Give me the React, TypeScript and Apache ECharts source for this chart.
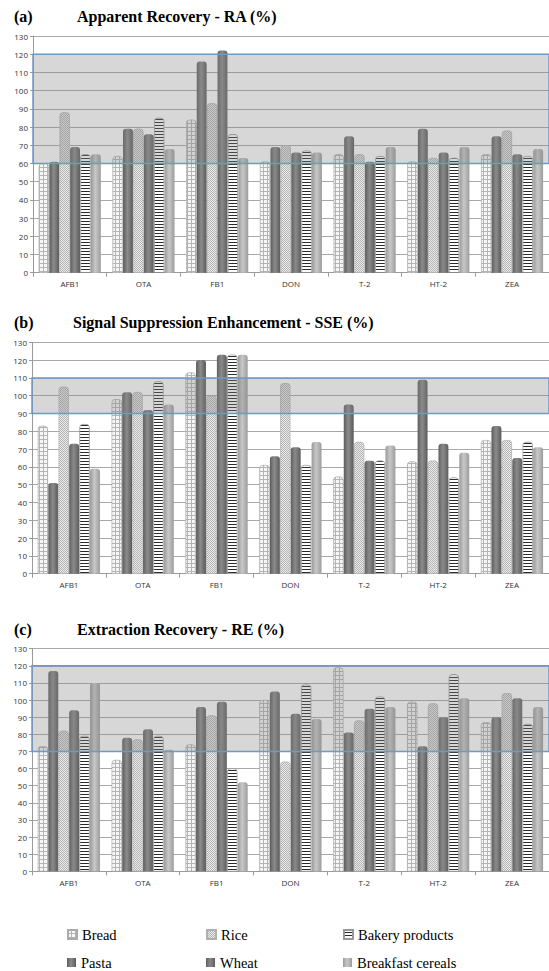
import React, { useEffect, useRef } from "react";
import * as echarts from "echarts";

const categories = ["AFB1", "OTA", "FB1", "DON", "T-2", "HT-2", "ZEA"];
const seriesNames = ["Bread", "Pasta", "Rice", "Wheat", "Bakery products", "Breakfast cereals"];
const yTicks = { min: 0, max: 130, interval: 10 };

// (a) Apparent Recovery - RA (%)
const raBread = [60, 64, 84, 61, 65, 61, 65];
const raPasta = [61, 79, 116, 69, 75, 79, 75];
const raRice = [88, 79, 93, 70, 65, 63, 78];
const raWheat = [69, 76, 122, 66, 61, 66, 65];
const raBakery = [65, 85, 76, 67, 64, 63, 64];
const raBreakfast = [65, 68, 63, 66, 69, 69, 68];
const raBand = [60, 120];

// (b) Signal Suppression Enhancement - SSE (%)
const sseBread = [83, 98, 113, 61, 54.5, 63, 75];
const ssePasta = [51, 102, 120, 66, 95, 109, 83];
const sseRice = [105, 102, 100, 107, 74, 63.5, 75];
const sseWheat = [73, 92, 123, 71, 63.5, 73, 65];
const sseBakery = [84, 108, 123, 61, 63.5, 54, 74];
const sseBreakfast = [59, 95, 123, 74, 72, 68, 71];
const sseBand = [90, 110];

// (c) Extraction Recovery - RE (%)
const reBread = [73, 65, 74, 100, 119, 99, 87];
const rePasta = [117, 78, 96, 105, 81, 73, 90];
const reRice = [82, 77, 91, 64, 88, 98, 104];
const reWheat = [94, 83, 99, 92, 95, 90, 101];
const reBakery = [79, 79, 60, 109, 102, 115, 86];
const reBreakfast = [110, 71, 52, 89, 96, 101, 96];
const reBand = [70, 120];

const panelTitles = ["Apparent Recovery - RA (%)", "Signal Suppression Enhancement - SSE (%)", "Extraction Recovery - RE (%)"];
const panelLetters = ["(a)", "(b)", "(c)"];

const panels = [
  { values: [raBread, raPasta, raRice, raWheat, raBakery, raBreakfast], band: raBand },
  { values: [sseBread, ssePasta, sseRice, sseWheat, sseBakery, sseBreakfast], band: sseBand },
  { values: [reBread, rePasta, reRice, reWheat, reBakery, reBreakfast], band: reBand },
];

const SERIF = "Liberation Serif";
const SANS = "Open Sans";

const grad = (a: string, b: string, c: string) => ({
  type: "linear", x: 0, y: 0, x2: 1, y2: 0,
  colorStops: [{ offset: 0, color: a }, { offset: 0.45, color: b }, { offset: 1, color: c }],
});

const seriesStyles: any[] = [
  { color: "#b4b4b4", borderColor: "#aaaaaa", borderWidth: 0.5,
    decal: { symbol: "rect", symbolSize: 1, color: "#f6f6f6", dashArrayX: [3, 1], dashArrayY: [3, 1], rotation: 0 } },
  { color: grad("#5c5c5c", "#8c8c8c", "#5a5a5a") },
  { color: "#b4b4b4", borderColor: "#b0b0b0", borderWidth: 0.5,
    decal: { symbol: "rect", symbolSize: 1, color: "#ebebeb", dashArrayX: [[1, 1], [0, 1, 1, 0]], dashArrayY: [1, 0], rotation: 0 } },
  { color: grad("#606060", "#8a8a8a", "#5e5e5e") },
  { color: "#2a2a2a", borderColor: "#999999", borderWidth: 0.5,
    decal: { symbol: "rect", symbolSize: 1, color: "#ffffff", dashArrayX: [1, 0], dashArrayY: [2, 1], rotation: 0 } },
  { color: grad("#9a9a9a", "#c8c8c8", "#9c9c9c") },
];

const grids = [
  { left: 33, right: -13, top: 36, height: 236.7 },
  { left: 32, right: -12, top: 342.3, height: 231.4 },
  { left: 32, right: -12, top: 648.7, height: 222.6 },
];
const titleTops = [8, 314, 621];
const titleLefts = [77, 73, 77];

const legendPos = [
  { name: "Bread", left: 67, top: 927 },
  { name: "Rice", left: 206, top: 927 },
  { name: "Bakery products", left: 343, top: 927 },
  { name: "Pasta", left: 67, top: 955 },
  { name: "Wheat", left: 206, top: 955 },
  { name: "Breakfast cereals", left: 343, top: 955 },
];

export default function App() {
  const ref = useRef<HTMLDivElement>(null);
  useEffect(() => {
    if (!ref.current) return;
    const chart = echarts.init(ref.current, null, { renderer: "svg" });
    const title: any[] = [];
    panels.forEach((_, i) => {
      title.push({ text: panelLetters[i], left: 14, top: titleTops[i], padding: 0,
        textStyle: { fontFamily: SERIF, fontWeight: "bold", fontSize: 16, color: "#000" } });
      title.push({ text: panelTitles[i], left: titleLefts[i], top: titleTops[i], padding: 0,
        textStyle: { fontFamily: SERIF, fontWeight: "bold", fontSize: 16, color: "#000" } });
    });
    const xAxis = panels.map((_, i) => ({
      type: "category", gridIndex: i, data: categories,
      axisLine: { lineStyle: { color: "#9a9a9a" } },
      axisTick: { show: true, length: 4, lineStyle: { color: "#9a9a9a" } },
      axisLabel: { fontSize: 8, color: "#333", fontFamily: SANS, margin: 7 },
    }));
    const yAxis = panels.map((_, i) => ({
      type: "value", gridIndex: i, ...yTicks,
      axisLine: { show: true, lineStyle: { color: "#9a9a9a" } },
      axisTick: { show: true, length: 3, lineStyle: { color: "#9a9a9a" } },
      splitLine: { lineStyle: { color: "#a8a8a8" } },
      axisLabel: { fontSize: 8, color: "#333", fontFamily: SANS, margin: 5 },
    }));
    const series: any[] = [];
    panels.forEach((p, i) => {
      p.values.forEach((vals, k) => {
        series.push({
          type: "bar", name: seriesNames[k], xAxisIndex: i, yAxisIndex: i, data: vals,
          barGap: "5%", barCategoryGap: "16%",
          itemStyle: { ...seriesStyles[k], borderRadius: [3, 3, 0, 0] },
        });
      });
      series.push({
        type: "custom", name: "band" + i, xAxisIndex: i, yAxisIndex: i, z: 10, silent: true,
        data: [[0, p.band[0], p.band[1]]],
        encode: { x: 0, y: [1, 2] },
        renderItem: (params: any, api: any) => {
          const cs = params.coordSys;
          const yHi = api.coord([0, api.value(2)])[1];
          const yLo = api.coord([0, api.value(1)])[1];
          return {
            type: "rect",
            shape: { x: cs.x, y: yHi, width: cs.width, height: yLo - yHi },
            style: { fill: "rgba(135,135,135,0.33)", stroke: "#6f98cc", lineWidth: 1.5 },
          };
        },
      });
    });
    const legend = legendPos.map((l) => ({
      data: [l.name], left: l.left, top: l.top, padding: 0, icon: "rect",
      itemWidth: 9, itemHeight: 9, selectedMode: false,
      textStyle: { fontFamily: SERIF, fontSize: 14.5, color: "#000" },
    }));
    chart.setOption({
      animation: false,
      backgroundColor: "#fff",
      title, grid: grids, xAxis, yAxis, series, legend,
    });
    return () => chart.dispose();
  }, []);
  return <div ref={ref} style={{ position: "absolute", left: 0, top: 0, width: 549, height: 971 }} />;
}
